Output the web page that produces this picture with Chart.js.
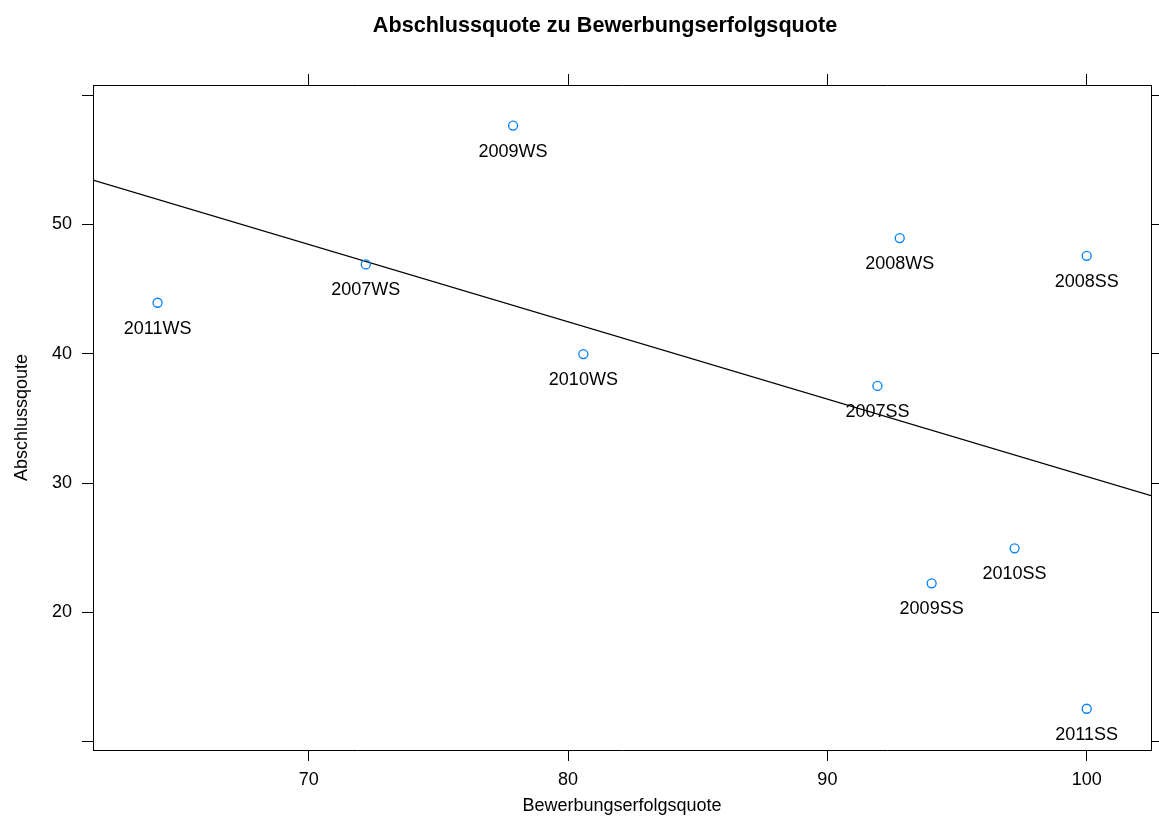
<!DOCTYPE html>
<html>
<head>
<meta charset="utf-8">
<title>Abschlussquote zu Bewerbungserfolgsquote</title>
<script src="https://cdn.jsdelivr.net/npm/chart.js@4.4.0/dist/chart.umd.min.js"></script>
<style>
  html, body { margin: 0; padding: 0; background: #fff; }
  #wrap { width: 1159px; height: 828px; }
</style>
</head>
<body>
<div id="wrap"><canvas id="scatter" width="1159" height="828"></canvas></div>
<script>
// Semester labels and the two rates
const semesters = ['2011WS', '2007WS', '2009WS', '2010WS', '2007SS', '2008WS', '2008SS', '2010SS', '2009SS', '2011SS'];
const erfolgsquote = [64.17, 72.20, 77.88, 80.59, 91.93, 92.79, 100.0, 97.22, 94.02, 100.0];
const abschlussquote = [43.95, 46.91, 57.65, 39.98, 37.52, 48.95, 47.58, 24.96, 22.25, 12.55];

// regression line, end points where it meets the panel border
const fitX = [61.68, 102.48];
const fitY = [53.43, 29.03];

// axes
const xRange = [61.68, 102.48];
const yRange = [9.36, 60.79];
const xTicks = [70, 80, 90, 100];
const yTicks = [10, 20, 30, 40, 50, 60];
const yLabelled = [20, 30, 40, 50];

const FONT = "'Liberation Sans', Arial, Helvetica, sans-serif";
const POINT_BLUE = '#0080ff';
const TICK_LEN = 11;

// draws the title, axis titles, point labels and the bottom tick marks
const textPlugin = {
  id: 'latticeText',
  afterDatasetsDraw(chart) {
    const ctx = chart.ctx;
    const area = chart.chartArea;
    ctx.save();
    ctx.fillStyle = '#000';

    // point labels below each point
    ctx.font = '18px ' + FONT;
    ctx.textAlign = 'center';
    ctx.textBaseline = 'middle';
    chart.getDatasetMeta(0).data.forEach((pt, i) => {
      ctx.fillText(semesters[i], pt.x, pt.y + 26);
    });

    // title
    ctx.font = 'bold 21.6px ' + FONT;
    ctx.textBaseline = 'alphabetic';
    ctx.fillText('Abschlussquote zu Bewerbungserfolgsquote', 605, 32);

    // axis titles
    ctx.font = '18px ' + FONT;
    ctx.textBaseline = 'middle';
    ctx.fillText('Bewerbungserfolgsquote', (area.left + area.right) / 2, 806);
    ctx.translate(22, (area.top + area.bottom) / 2);
    ctx.rotate(-Math.PI / 2);
    ctx.fillText('Abschlussqoute', 0, 0);
    ctx.restore();
  },
  afterDraw(chart) {
    // bottom tick marks, drawn once more so they stay crisp
    const ctx = chart.ctx;
    const xs = chart.scales.x;
    const y0 = Math.round(chart.chartArea.bottom);
    ctx.save();
    ctx.strokeStyle = '#000';
    ctx.lineWidth = 1;
    ctx.beginPath();
    xTicks.forEach(v => {
      const px = Math.floor(xs.getPixelForValue(v)) + 0.5;
      ctx.moveTo(px, y0);
      ctx.lineTo(px, y0 + TICK_LEN);
    });
    ctx.stroke();
    ctx.restore();
  }
};

function fixedSize(prop, size) {
  return (s) => {
    s[prop] = size;
    s.paddingLeft = 0; s.paddingRight = 0; s.paddingTop = 0; s.paddingBottom = 0;
  };
}

function tickGrid() {
  return { drawOnChartArea: false, drawTicks: true, tickLength: TICK_LEN, color: '#000', tickColor: '#000', tickWidth: 1 };
}
function frame() {
  return { display: true, color: '#000', width: 1 };
}

new Chart(document.getElementById('scatter').getContext('2d'), {
  type: 'scatter',
  data: {
    datasets: [
      {
        label: 'Semester',
        data: erfolgsquote.map((x, i) => ({ x: x, y: abschlussquote[i] })),
        pointStyle: 'circle',
        pointRadius: 4.5,
        pointBorderWidth: 1.3,
        pointBorderColor: POINT_BLUE,
        pointBackgroundColor: 'rgba(0,0,0,0)',
        showLine: false
      },
      {
        type: 'line',
        label: 'Regression',
        data: fitX.map((x, i) => ({ x: x, y: fitY[i] })),
        borderColor: '#000',
        borderWidth: 1.2,
        pointRadius: 0,
        fill: false
      }
    ]
  },
  options: {
    responsive: false,
    animation: false,
    layout: { padding: 0 },
    plugins: {
      legend: { display: false },
      title: { display: false },
      tooltip: { enabled: false }
    },
    scales: {
      x: {
        type: 'linear',
        position: 'bottom',
        min: xRange[0],
        max: xRange[1],
        afterBuildTicks: (s) => { s.ticks = xTicks.map(v => ({ value: v })); },
        afterFit: fixedSize('height', 78),
        grid: tickGrid(),
        border: frame(),
        ticks: {
          color: '#000',
          padding: 8,
          maxRotation: 0,
          autoSkip: false,
          font: { family: FONT, size: 18 },
          callback: (v) => String(v)
        }
      },
      x2: {
        type: 'linear',
        position: 'top',
        min: xRange[0],
        max: xRange[1],
        afterBuildTicks: (s) => { s.ticks = xTicks.map(v => ({ value: v })); },
        afterFit: fixedSize('height', 85),
        grid: tickGrid(),
        border: frame(),
        ticks: { display: false }
      },
      y: {
        type: 'linear',
        position: 'left',
        min: yRange[0],
        max: yRange[1],
        afterBuildTicks: (s) => { s.ticks = yTicks.map(v => ({ value: v })); },
        afterFit: fixedSize('width', 93),
        grid: tickGrid(),
        border: frame(),
        ticks: {
          color: '#000',
          padding: 10,
          autoSkip: false,
          font: { family: FONT, size: 18 },
          callback: (v) => yLabelled.includes(v) ? String(v) : ''
        }
      },
      y2: {
        type: 'linear',
        position: 'right',
        min: yRange[0],
        max: yRange[1],
        afterBuildTicks: (s) => { s.ticks = yTicks.map(v => ({ value: v })); },
        afterFit: fixedSize('width', 8),
        grid: tickGrid(),
        border: frame(),
        ticks: { display: false }
      }
    }
  },
  plugins: [textPlugin]
});
</script>
</body>
</html>
